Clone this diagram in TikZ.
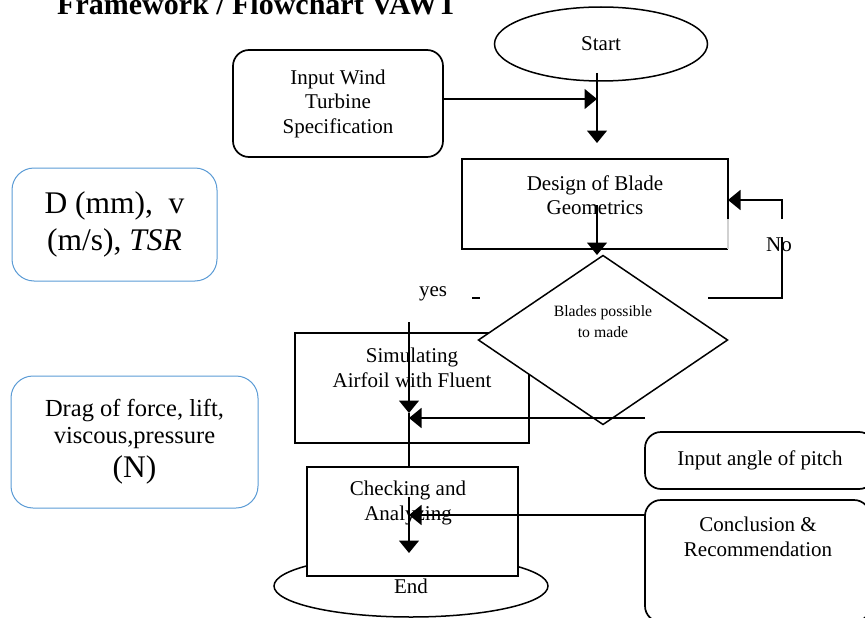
\documentclass[tikz,border=0pt]{standalone}
\usepackage{fontspec}
\setmainfont{Liberation Serif}
\usetikzlibrary{shapes.geometric,arrows.meta}

\definecolor{boxblue}{RGB}{91,155,213}
\newcommand{\fcmain}{\fontsize{21}{24.5}\selectfont}
\newcommand{\fcsmall}{\fontsize{15.75}{21}\selectfont}

\tikzset{
  flowline/.style={line width=1.5pt, draw=black},
  arr/.style={flowline, -{Triangle[length=12.5pt,width=20pt]}},
  procbox/.style={draw=black, line width=1.5pt, fill=white, rectangle, inner sep=0pt, outer sep=0pt},
  roundbox/.style={draw=black, line width=1.7pt, fill=white, rectangle, rounded corners=16pt,
                   inner sep=0pt, outer sep=0pt, align=center, font=\fcmain},
  bluebox/.style={draw=boxblue, line width=1pt, rectangle, rounded corners=22pt,
                  inner sep=0pt, outer sep=0pt, align=center},
  term/.style={draw=black, line width=1.5pt, fill=white, ellipse, inner sep=0pt, outer sep=0pt, font=\fcmain},
  txt/.style={align=center, inner sep=0pt, font=\fcmain},
}

\begin{document}
\begin{tikzpicture}[x=1pt,y=-1pt]
\useasboundingbox (0,0) rectangle (865,618);
\clip (0,0) rectangle (865,618);

% heading
\node[anchor=base west, inner sep=0pt, font=\fontsize{30}{36}\selectfont\bfseries] (title) at (57,15) {Framework / Flowchart VAWT};

% parameter notes
\node[bluebox, minimum width=205pt, minimum height=113pt, font=\fontsize{31.5}{37}\selectfont] (params) at (114.5,224.5) {D (mm),\ \ v\\(m/s), \textit{TSR}};
\node[bluebox, minimum width=247pt, minimum height=132pt, font=\fontsize{24.5}{26.5}\selectfont] (forces) at (134.5,442) {Drag of force, lift,\\viscous,pressure\\[6pt]{\fontsize{31.5}{34}\selectfont (N)}};

% input and start
\node[roundbox, minimum width=210pt, minimum height=107pt] (spec) at (338,103.5) {Input Wind\\Turbine\\Specification};
\node[term, minimum width=213pt, minimum height=74pt] (start) at (601,44) {Start};

\coordinate (j1) at (597,99);
\coordinate (s1) at (597,73);
\coordinate (s2) at (597,143);
\draw[arr] (spec.east |- j1) -- (j1);
\draw[arr] (s1) -- (s2);

% blade design
\node[procbox, draw=none, minimum width=266pt, minimum height=90pt] (design) at (595,204) {};
\node[txt] (design-t) at (595,195) {Design of Blade\\Geometrics};
\coordinate (g1) at (728,219);
\draw[flowline] (design.east |- g1) -- (design.north east) -- (design.north west) -- (design.south west) -- (design.south east);
\draw[draw=black!18, line width=1.5pt] (design.east |- g1) -- (design.south east);

\coordinate (d1) at (597,205);
\coordinate (d2) at (597,255);
\draw[arr] (d1) -- (d2);

% simulation
\node[procbox, minimum width=234pt, minimum height=110pt] (sim) at (412,388) {};
\node[txt] (sim-t) at (412,368) {Simulating\\Airfoil with Fluent};

% decision
\node[diamond, draw=black, line width=1.5pt, fill=white, minimum width=249pt, minimum height=169pt,
      inner sep=0pt, outer sep=0pt] (feasible) at (603,340) {};
\node[txt, font=\fcsmall] (feasible-t) at (603,322) {Blades possible\\to made};

% "No" loop back to the design step
\coordinate (n1) at (708,298);
\coordinate (n2) at (782,298);
\coordinate (n3) at (782,237);
\coordinate (n4) at (782,219);
\coordinate (n5) at (782,200);
\draw[flowline] (n1) -- (n2) -- (n3);
\draw[arr] (n4) -- (n5) -- (design.east |- n5);
\node[txt] (no) at (779,245) {No};

% "yes" branch
\node[txt] (yes) at (433,294) {yes};
\coordinate (m1) at (472,298);
\coordinate (m2) at (480,298);
\draw[flowline] (m1) -- (m2);

\coordinate (y1) at (409,322);
\coordinate (y2) at (409,413);
\draw[arr] (y1) -- (y2);
\coordinate (h1) at (645,418);
\coordinate (h2) at (409,418);
\draw[arr] (h1) -- (h2);

% checking and end
\node[term, minimum width=274pt, minimum height=62pt] (end) at (411,586) {End};
\node[procbox, minimum width=211pt, minimum height=109pt] (check) at (412.5,521.5) {};
\node[txt] (check-t) at (408,503) {Checking and\\Analyzing};
\draw[flowline] (y2) -- (y2 |- check.north);
\coordinate (c1) at (409,497);
\coordinate (c2) at (409,553);
\draw[arr] (c1) -- (c2);

% pitch input and conclusion
\node[roundbox, minimum width=230pt, minimum height=57pt] (pitch) at (760,460.5) {Input angle of pitch};
\node[roundbox, minimum width=225pt, minimum height=122pt] (concl) at (757.5,561) {};
\node[txt] (concl-t) at (758,537) {Conclusion \&\\Recommendation};
\coordinate (k1) at (409,515);
\draw[arr] (concl.west |- k1) -- (k1);

\end{tikzpicture}
\end{document}
